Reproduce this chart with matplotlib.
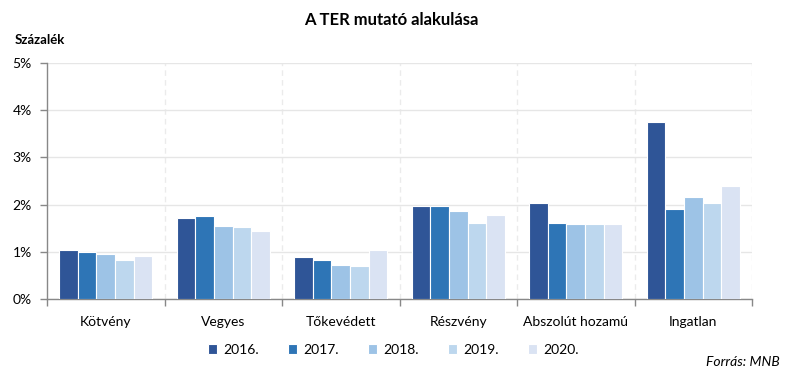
import matplotlib.pyplot as plt
import numpy as np
from matplotlib.ticker import FuncFormatter

plt.rcParams['font.family'] = ['Lato', 'DejaVu Sans']

categories = ['Kötvény', 'Vegyes', 'Tőkevédett', 'Részvény', 'Abszolút hozamú', 'Ingatlan']
years = ['2016.', '2017.', '2018.', '2019.', '2020.']
values = {
    '2016.': [1.04, 1.72, 0.89, 1.96, 2.04, 3.74],
    '2017.': [1.00, 1.76, 0.83, 1.96, 1.60, 1.90],
    '2018.': [0.95, 1.55, 0.72, 1.87, 1.58, 2.17],
    '2019.': [0.83, 1.53, 0.70, 1.60, 1.58, 2.04],
    '2020.': [0.91, 1.44, 1.04, 1.79, 1.58, 2.40],
}
colors = ['#2F5597', '#2E75B6', '#9DC3E6', '#BDD7EE', '#DAE3F3']

fig = plt.figure(figsize=(7.88, 3.77), dpi=100)
ax = fig.add_axes([47/788, 1-299/377, (752-47)/788, (299-63)/377])

x = np.arange(len(categories))
w = 0.158
for i, y in enumerate(years):
    ax.bar(x + (i - 2) * w, values[y], w, color=colors[i], edgecolor='white',
           linewidth=0.8, label=y, zorder=3)

ax.set_xlim(-0.5, len(categories) - 0.5)
ax.set_ylim(0, 5)
ax.set_yticks(range(6))
ax.yaxis.set_major_formatter(FuncFormatter(lambda v, p: f'{int(v)}%'))
ax.yaxis.grid(True, color='#e6e6e6', linewidth=1, zorder=0)

bounds = np.arange(len(categories) + 1) - 0.5
for b in bounds[1:]:
    ax.axvline(b, color='#ebebeb', linewidth=1, linestyle=(0, (4, 3)), zorder=0)
ax.set_xticks(bounds)
ax.set_xticklabels([])
ax.set_xticks(x, minor=True)
ax.set_xticklabels(categories, minor=True, fontsize=10)
ax.tick_params(axis='x', which='minor', length=0, pad=12)
ax.tick_params(axis='x', which='major', length=5, color='#888888', width=1)
ax.tick_params(axis='y', length=5, color='#888888', width=1, labelsize=10, pad=6)

for s in ['top', 'right']:
    ax.spines[s].set_visible(False)
for s in ['left', 'bottom']:
    ax.spines[s].set_color('#888888')
    ax.spines[s].set_linewidth(1)

fig.text(0.497, 1-20/377, 'A TER mutató alakulása', ha='center', va='center',
         fontsize=12, fontweight='bold')
fig.text(15/788, 1-40/377, 'Százalék', ha='left', va='center', fontsize=9.5,
         fontweight='bold')
fig.legend(loc='center', bbox_to_anchor=(393/788, 1-350/377), ncol=5, frameon=False,
           fontsize=10, handlelength=0.7, handleheight=0.7, columnspacing=2.1,
           handletextpad=0.4)
fig.text(780/788, 1-362/377, 'Forrás: MNB', ha='right', va='center', fontsize=10,
         style='italic')

fig.savefig('out.png', dpi=100)
